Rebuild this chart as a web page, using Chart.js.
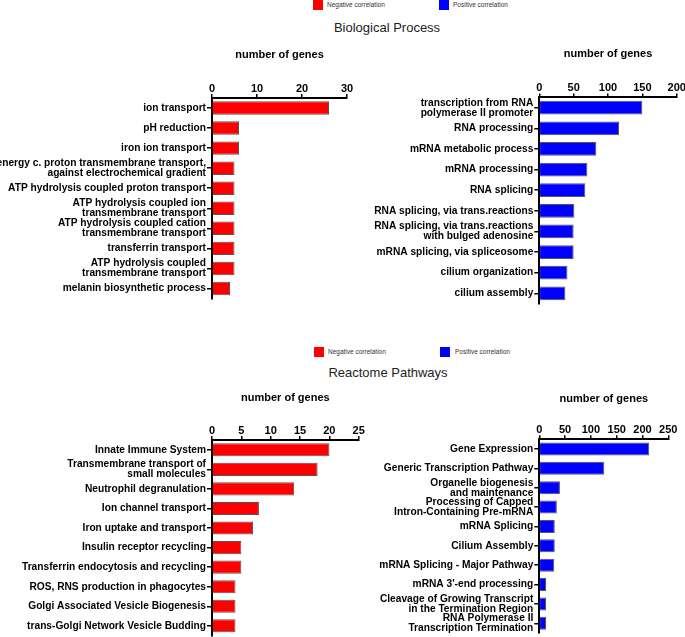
<!DOCTYPE html>
<html>
<head>
<meta charset="utf-8">
<script src="https://cdn.jsdelivr.net/npm/chart.js@4"></script>
<style>
  body { margin: 0; width: 685px; height: 637px; overflow: hidden; background: #fff; position: relative;
         font-family: 'Liberation Sans', Arial, sans-serif; }
  canvas { position: absolute; }
  .sw { position: absolute; width: 10px; height: 10px; }
  .lg { position: absolute; font-size: 6.5px; line-height: 10px; color: #333; white-space: nowrap; }
  .head { position: absolute; width: 200px; text-align: center; font-size: 13px; line-height: 15px; color: #222; }
</style>
</head>
<body>
<!-- legends + section titles -->
<div class="sw" style="left:313px; top:0px; background:#ff0000"></div>
<div class="lg" style="left:327px; top:0px">Negative correlation</div>
<div class="sw" style="left:439px; top:0px; background:#0000ff"></div>
<div class="lg" style="left:453px; top:0px">Positive correlation</div>
<div class="head" style="left:287px; top:20px">Biological Process</div>

<div class="sw" style="left:314px; top:347px; background:#ff0000"></div>
<div class="lg" style="left:328px; top:347px">Negative correlation</div>
<div class="sw" style="left:440px; top:347px; background:#0000ff"></div>
<div class="lg" style="left:455px; top:347px">Positive correlation</div>
<div class="head" style="left:288px; top:365px">Reactome Pathways</div>

<canvas id="bpNeg" width="360" height="262" style="left:0px; top:40px"></canvas>
<canvas id="bpPos" width="330" height="266" style="left:360px; top:40px"></canvas>
<canvas id="rpNeg" width="372" height="257" style="left:0px; top:380px"></canvas>
<canvas id="rpPos" width="330" height="257" style="left:360px; top:380px"></canvas>

<script>
// Biological Process - negative correlation
const bpNegLabels = [
  'ion transport',
  'pH reduction',
  'iron ion transport',
  ['energy c. proton transmembrane transport,', 'against electrochemical gradient'],
  'ATP hydrolysis coupled proton transport',
  ['ATP hydrolysis coupled ion', 'transmembrane transport'],
  ['ATP hydrolysis coupled cation', 'transmembrane transport'],
  'transferrin transport',
  ['ATP hydrolysis coupled', 'transmembrane transport'],
  'melanin biosynthetic process'
];
const bpNegValues = [26, 6, 6, 5, 5, 5, 5, 5, 5, 4];

// Biological Process - positive correlation
const bpPosLabels = [
  ['transcription from RNA', 'polymerase II promoter'],
  'RNA processing',
  'mRNA metabolic process',
  'mRNA processing',
  'RNA splicing',
  'RNA splicing, via trans.reactions',
  ['RNA splicing, via trans.reactions', 'with bulged adenosine'],
  'mRNA splicing, via spliceosome',
  'cilium organization',
  'cilium assembly'
];
const bpPosValues = [150, 116, 83, 70, 67, 51, 50, 50, 41, 38];

// Reactome Pathways - negative correlation
const rpNegLabels = [
  'Innate Immune System',
  ['Transmembrane transport of', 'small molecules'],
  'Neutrophil degranulation',
  'Ion channel transport',
  'Iron uptake and transport',
  'Insulin receptor recycling',
  'Transferrin endocytosis and recycling',
  'ROS, RNS production in phagocytes',
  'Golgi Associated Vesicle Biogenesis',
  'trans-Golgi Network Vesicle Budding'
];
const rpNegValues = [20, 18, 14, 8, 7, 5, 5, 4, 4, 4];

// Reactome Pathways - positive correlation
const rpPosLabels = [
  'Gene Expression',
  'Generic Transcription Pathway',
  ['Organelle biogenesis', 'and maintenance'],
  ['Processing of Capped', 'Intron-Containing Pre-mRNA'],
  'mRNA Splicing',
  'Cilium Assembly',
  'mRNA Splicing - Major Pathway',
  "mRNA 3'-end processing",
  ['Cleavage of Growing Transcript', 'in the Termination Region'],
  ['RNA Polymerase II', 'Transcription Termination']
];
const rpPosValues = [213, 126, 40, 34, 30, 30, 29, 13, 13, 13];

Chart.defaults.font.family = "'Liberation Sans', Arial, sans-serif";
Chart.defaults.color = '#000';

function makeChart(id, labels, values, color, xMax, xStep, box) {
  return new Chart(document.getElementById(id), {
    type: 'bar',
    data: {
      labels: labels,
      datasets: [{
        data: values,
        backgroundColor: color,
        borderColor: '#555',
        borderWidth: 1,
        barPercentage: 0.67,
        categoryPercentage: 1
      }]
    },
    options: {
      indexAxis: 'y',
      responsive: false,
      animation: false,
      layout: { padding: { top: 0, left: 0, right: box.right, bottom: box.bottom } },
      plugins: { legend: { display: false }, tooltip: { enabled: false } },
      scales: {
        x: {
          position: 'top',
          min: 0,
          max: xMax,
          ticks: { stepSize: xStep, autoSkip: false, maxRotation: 0, padding: 0,
                   font: { size: 11, weight: 'bold', lineHeight: 1 } },
          grid: { drawOnChartArea: false, tickLength: 4, color: '#000', lineWidth: 1.5 },
          border: { color: '#000', width: 2 },
          title: { display: true, text: 'number of genes',
                   font: { size: 11, weight: 'bold', lineHeight: 1 },
                   padding: { top: box.titleTop, bottom: 0 } },
          afterFit: s => { s.height = box.xHeight; s.paddingLeft = 0; s.paddingRight = 0; }
        },
        y: {
          ticks: { autoSkip: false, padding: 1,
                   font: { size: 10.2, weight: 'bold', lineHeight: 0.98 } },
          grid: { offset: false, drawOnChartArea: false, tickLength: 5, color: '#000', lineWidth: 1.5 },
          border: { color: '#000', width: 2 },
          afterFit: s => { s.width = box.yWidth; s.paddingTop = 0; s.paddingBottom = 0; }
        }
      }
    }
  });
}

makeChart('bpNeg', bpNegLabels, bpNegValues, '#ff0000', 30, 10,
  { yWidth: 212, xHeight: 58, right: 13, bottom: 3.5, titleTop: 9.5 });
makeChart('bpPos', bpPosLabels, bpPosValues, '#0000ff', 200, 50,
  { yWidth: 179.3, xHeight: 57.4, right: 13.3, bottom: 2.4, titleTop: 8.5 });
makeChart('rpNeg', rpNegLabels, rpNegValues, '#ff0000', 25, 5,
  { yWidth: 212, xHeight: 60, right: 13.3, bottom: 1.4, titleTop: 12.5 });
makeChart('rpPos', rpPosLabels, rpPosValues, '#0000ff', 250, 50,
  { yWidth: 179.3, xHeight: 59.3, right: 21.7, bottom: 4, titleTop: 13.8 });
</script>
</body>
</html>
